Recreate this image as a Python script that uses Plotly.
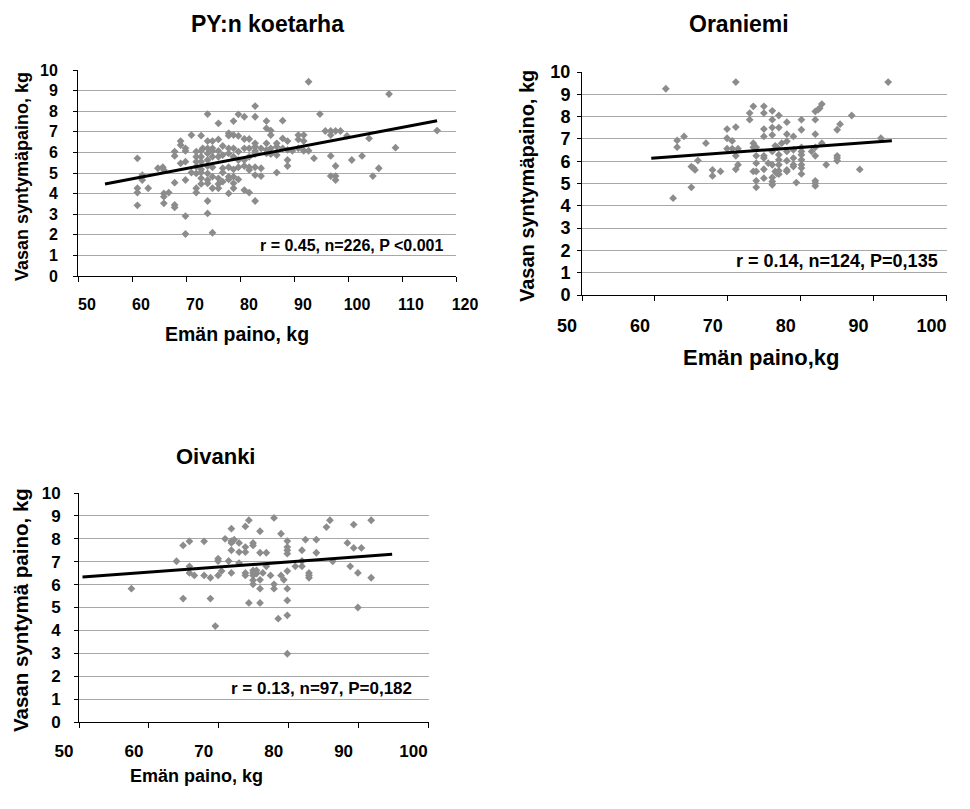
import plotly.graph_objects as go

W, H = 970, 809
OFF = 8  # page body margin in the browser; positions below are page pixels

# ---------------- data ----------------
titles = ["PY:n koetarha", "Oraniemi", "Oivanki"]
y_titles = ["Vasan syntymäpaino, kg", "Vasan syntymäpaino, kg", "Vasan syntymä paino, kg"]
x_titles = ["Emän paino, kg", "Emän paino,kg", "Emän paino, kg"]
stats = ["r = 0.45, n=226, P <0.001", "r = 0.14, n=124, P=0,135", "r = 0.13, n=97, P=0,182"]
x_ranges = [[50, 120], [50, 100], [50, 100]]
y_range = [0, 10]

py_points = [
    (74.0, 7.86), (76.0, 7.41), (78.8, 7.52), (79.7, 7.85), (80.8, 7.73), (82.8, 8.25), (82.8, 7.73),
    (71.0, 6.84), (72.8, 6.81), (77.9, 6.93), (77.9, 6.81), (78.8, 6.84), (79.7, 6.80), (80.8, 6.65),
    (81.7, 6.65), (82.8, 6.44), (82.8, 6.28), (69.0, 6.55), (69.0, 6.36), (74.0, 6.55), (74.9, 6.55),
    (76.0, 6.63), (76.8, 6.31), (74.9, 6.2), (74.0, 6.2), (73.1, 6.2), (71.9, 6.04), (72.8, 6.07),
    (69.9, 6.2), (69.9, 6.07), (67.9, 6.04), (67.9, 5.83), (69.0, 5.47), (69.9, 5.55), (71.9, 5.79),
    (72.8, 5.79), (74.0, 5.95), (74.9, 6.07), (76.0, 6.07), (77.9, 6.2), (78.8, 6.2), (79.7, 6.04),
    (80.8, 6.2), (81.7, 6.2), (82.8, 6.07), (83.9, 6.2), (71.9, 5.55), (72.8, 5.55), (74.0, 5.63),
    (74.9, 5.79), (76.0, 5.79), (76.8, 5.87), (77.9, 5.95), (78.8, 5.79), (79.7, 5.63), (80.8, 5.63),
    (81.7, 5.79), (82.8, 5.92), (71.9, 5.31), (72.8, 5.18), (74.0, 5.34), (74.9, 5.28), (76.8, 5.23),
    (77.9, 5.28), (78.8, 5.18), (79.7, 5.28), (80.8, 5.34), (81.7, 5.28), (82.8, 5.28), (83.9, 5.23),
    (64.8, 5.23), (65.7, 5.28), (65.9, 5.15), (61.9, 4.9), (61.9, 4.66), (63.0, 4.26), (67.9, 4.53),
    (69.9, 4.66), (71.0, 5.02), (71.9, 4.98), (72.8, 5.02), (74.0, 4.98), (72.8, 4.74), (74.0, 4.66),
    (74.9, 4.82), (76.0, 4.74), (76.8, 5.02), (77.9, 4.82), (78.8, 4.82), (77.9, 4.69), (79.7, 4.69),
    (81.7, 5.15), (82.8, 4.9), (83.9, 4.85), (72.8, 4.47), (74.0, 4.5), (74.9, 4.26), (76.0, 4.47),
    (76.0, 4.26), (76.8, 4.58), (77.9, 4.01), (78.8, 4.5), (78.8, 4.26), (80.8, 4.17), (81.7, 4.05),
    (71.9, 4.26), (71.9, 4.05), (61.0, 5.71), (61.0, 4.26), (61.0, 4.05), (61.0, 3.43), (65.9, 4.01),
    (65.9, 3.85), (66.8, 4.05), (65.9, 3.53), (67.9, 3.45), (67.9, 3.33), (69.9, 2.91), (74.0, 3.64),
    (74.0, 3.04), (82.8, 3.64), (69.9, 2.04), (74.9, 2.1),
    (92.7, 9.43), (107.6, 8.83), (84.9, 7.52), (87.9, 7.54), (94.8, 7.86), (84.9, 7.17), (85.7, 7.06),
    (85.7, 6.84), (84.9, 6.44), (86.8, 6.44), (86.8, 6.28), (87.9, 6.68), (88.8, 6.55), (90.8, 6.84),
    (90.8, 6.63), (91.8, 6.84), (91.8, 6.55), (95.8, 7.04), (96.8, 7.04), (96.8, 6.84), (97.7, 7.04),
    (98.6, 7.04), (99.8, 6.8), (103.9, 6.68), (108.8, 6.23), (116.5, 7.06), (85.7, 6.2), (87.9, 6.2),
    (88.8, 6.12), (89.7, 6.08), (90.8, 6.2), (91.8, 6.08), (92.7, 6.08), (84.9, 6.12), (84.9, 5.95),
    (85.7, 5.92), (86.8, 5.87), (88.8, 5.63), (88.8, 5.34), (93.7, 5.71), (96.8, 5.83), (97.7, 5.34),
    (100.7, 5.63), (102.6, 5.83), (86.8, 5.02), (96.8, 4.85), (97.7, 4.85), (97.7, 4.66), (104.6, 4.85),
    (105.7, 5.23),
]

or_points = [
    (61.5, 9.25), (71.1, 9.55), (92.0, 9.55), (62.5, 4.34), (63.05, 6.93), (63.05, 6.63), (64.0, 7.11),
    (65.0, 4.83), (65.0, 5.76), (65.3, 5.69), (65.5, 5.61), (65.9, 6.03), (67.0, 6.81), (67.9, 5.61),
    (67.9, 5.34), (69.0, 5.54), (69.9, 7.44), (69.9, 7.03), (69.9, 6.56), (70.6, 6.91), (70.6, 6.56),
    (71.1, 7.53), (71.1, 6.24), (71.4, 6.56), (71.4, 5.84), (71.1, 5.64), (73.0, 8.16), (73.0, 7.86),
    (73.5, 8.46), (73.5, 6.81), (73.5, 6.62), (73.9, 6.62), (73.9, 6.24), (73.9, 5.91), (73.5, 5.54),
    (73.9, 5.54), (73.9, 5.12), (73.9, 4.83), (74.95, 8.46), (74.95, 8.16), (74.95, 7.44), (74.95, 7.11),
    (74.95, 6.24), (74.95, 6.14), (74.95, 5.64), (74.95, 5.24), (75.55, 5.91), (76.1, 8.26), (76.1, 7.86),
    (76.1, 7.51), (76.1, 7.18), (76.1, 6.44), (76.1, 5.84), (76.1, 5.27), (76.1, 5.09), (76.1, 4.94),
    (76.5, 6.69), (76.8, 6.62), (77.0, 8.05), (77.0, 7.51), (77.0, 6.29), (77.0, 6.06), (77.0, 5.84),
    (77.0, 5.57), (77.0, 5.42), (76.5, 5.54), (76.7, 5.46), (77.4, 6.81), (78.1, 7.75), (78.1, 7.21),
    (78.1, 6.89), (78.1, 6.44), (78.1, 6.02), (78.1, 5.61), (78.1, 5.54), (79.0, 7.11), (79.0, 6.51),
    (79.0, 6.14), (79.0, 5.84), (79.0, 5.76), (79.4, 5.04), (80.1, 7.86), (80.1, 7.41), (80.1, 6.62),
    (80.1, 6.44), (80.1, 6.29), (80.1, 6.06), (80.1, 5.84), (80.1, 5.69), (80.1, 5.43), (81.5, 6.44),
    (82.0, 8.23), (82.4, 8.31), (82.6, 8.38), (82.9, 8.56), (82.0, 7.86), (82.0, 7.21), (82.0, 6.62),
    (82.0, 6.24), (82.0, 5.12), (82.0, 5.01), (82.0, 4.89), (82.9, 6.81), (83.5, 5.84), (85.0, 7.41),
    (85.4, 7.66), (85.0, 6.24), (85.0, 6.14), (85.0, 6.02), (87.0, 8.05), (88.1, 5.63), (91.0, 7.03),
]

oi_points = [
    (57.5, 5.82), (63.95, 7.02), (64.9, 7.71), (64.9, 5.39), (65.8, 7.89), (65.8, 6.8), (65.8, 6.51),
    (66.5, 6.4), (67.9, 7.89), (67.9, 6.4), (68.8, 6.3), (68.8, 5.39), (69.5, 4.19), (69.9, 7.13),
    (69.9, 7.03), (69.9, 6.4), (70.4, 6.59), (70.9, 8.0), (71.4, 7.03), (71.8, 8.44), (71.8, 7.9),
    (71.8, 7.82), (71.8, 7.5), (71.8, 6.51), (72.2, 7.96), (72.9, 7.82), (72.9, 7.42), (72.9, 6.94),
    (73.8, 8.54), (73.8, 7.64), (73.8, 7.42), (73.8, 6.51), (73.8, 6.40), (74.3, 8.81), (74.3, 5.2),
    (74.9, 7.82), (74.9, 7.71), (74.9, 6.62), (74.9, 6.51), (74.9, 6.40), (74.9, 6.19), (74.9, 6.01),
    (75.4, 6.62), (75.4, 6.48), (75.9, 8.33), (75.9, 7.39), (75.9, 6.21), (75.9, 5.82), (75.9, 5.2),
    (76.3, 6.51), (76.8, 7.39), (76.8, 6.8), (77.4, 6.4), (77.9, 8.91), (77.9, 6.01), (77.9, 5.82),
    (78.5, 4.51), (78.9, 8.22), (78.9, 6.4), (79.3, 6.21), (79.8, 7.9), (79.8, 7.64), (79.8, 7.5),
    (79.8, 7.35), (79.8, 6.59), (79.8, 5.82), (79.8, 5.31), (79.8, 4.66), (79.8, 2.98), (80.95, 6.8),
    (81.9, 7.5), (81.9, 7.03), (81.9, 6.8), (82.4, 7.96), (82.9, 6.51), (82.9, 6.4), (82.9, 6.3),
    (83.95, 7.96), (83.95, 7.39), (85.4, 8.51), (85.9, 8.81), (86.3, 7.02), (88.4, 7.82), (88.8, 6.8),
    (89.3, 8.62), (89.3, 7.6), (90.4, 7.6), (89.9, 6.51), (89.9, 5.0), (91.8, 8.81), (91.8, 6.3),
]

# trend line end points
py_trend_x, py_trend_y = [55.0, 116.5], [4.47, 7.54]
or_trend_x, or_trend_y = [59.5, 92.5], [6.13, 6.92]
oi_trend_x, oi_trend_y = [50.5, 94.8], [6.33, 7.32]

# ---------------- layout geometry (page pixels) ----------------
FONT = "Liberation Sans, Arial, Helvetica, sans-serif"
boxes = [(78, 456, 70, 276), (582, 946.5, 72, 295), (79, 428.5, 493, 722)]
tick_font_sizes = [16, 18, 17]
xshift = [9, -15, -15]
ystandoff = [12, 3, 10]


def fx(px):
    return (px - OFF) / W


def fy(py):
    return 1 - (py - OFF) / H


datasets = [
    (py_points, py_trend_x, py_trend_y),
    (or_points, or_trend_x, or_trend_y),
    (oi_points, oi_trend_x, oi_trend_y),
]

fig = go.Figure()
marker_color = "#8c8c8c"

for i, (pts, tx, ty) in enumerate(datasets):
    xa = "x" if i == 0 else f"x{i+1}"
    ya = "y" if i == 0 else f"y{i+1}"
    fig.add_trace(go.Scatter(
        x=[p[0] for p in pts], y=[p[1] for p in pts], mode="markers",
        marker=dict(symbol="diamond", size=6, color=marker_color, line=dict(width=0)),
        xaxis=xa, yaxis=ya, hoverinfo="skip", showlegend=False))
    fig.add_trace(go.Scatter(
        x=tx, y=ty, mode="lines", line=dict(color="black", width=3),
        xaxis=xa, yaxis=ya, hoverinfo="skip", showlegend=False))

layout = dict(
    template="none",
    width=W, height=H, autosize=False,
    margin=dict(l=0, r=0, t=0, b=0, pad=0),
    paper_bgcolor="white", plot_bgcolor="white",
    showlegend=False,
    font=dict(family=FONT, color="black"),
)

for i, (l, r, t, b) in enumerate(boxes):
    xk = "xaxis" if i == 0 else f"xaxis{i+1}"
    yk = "yaxis" if i == 0 else f"yaxis{i+1}"
    ya = "y" if i == 0 else f"y{i+1}"
    xa = "x" if i == 0 else f"x{i+1}"
    fs = tick_font_sizes[i]
    layout[xk] = dict(
        domain=[fx(l), fx(r)], anchor=ya, range=x_ranges[i], dtick=10, tick0=50,
        automargin=False,
        showgrid=False, zeroline=False, showline=True, linecolor="black", linewidth=1,
        ticks="outside", ticklen=5, tickcolor="black", tickwidth=1,
        tickfont=dict(family=FONT, size=fs, color="black", weight="bold"),
        ticklabelshift=xshift[i], ticklabelstandoff=9,
    )
    layout[yk] = dict(
        domain=[fy(b), fy(t)], anchor=xa, range=y_range, dtick=1, tick0=0,
        automargin=False,
        showgrid=True, gridcolor="#a8a8a8", gridwidth=1, zeroline=False,
        showline=True, linecolor="black", linewidth=1,
        ticks="outside", ticklen=4, tickcolor="black", tickwidth=1,
        tickfont=dict(family=FONT, size=fs, color="black", weight="bold"),
        ticklabelstandoff=ystandoff[i],
    )

fig.update_layout(**layout)


def ann(text, px, py, size, angle=0, xanchor="center"):
    fig.add_annotation(
        text=f"<b>{text}</b>", x=fx(px), y=fy(py), xref="paper", yref="paper",
        showarrow=False, textangle=angle, xanchor=xanchor, yanchor="middle",
        borderpad=0, font=dict(family=FONT, size=size, color="black"))


# chart titles
ann(titles[0], 267, 24, 23)
ann(titles[1], 739, 24, 23)
ann(titles[2], 215, 456, 22)
# y axis titles
ann(y_titles[0], 22, 177, 18, angle=-90)
ann(y_titles[1], 527, 186, 20, angle=-90)
ann(y_titles[2], 20, 610, 20.5, angle=-90)
# x axis titles
ann(x_titles[0], 237, 334, 19.5)
ann(x_titles[1], 761, 358, 22)
ann(x_titles[2], 196, 776, 18)
# statistics
ann(stats[0], 445, 245, 16, xanchor="right")
ann(stats[1], 939, 261, 18, xanchor="right")
ann(stats[2], 413, 688, 17, xanchor="right")

fig.write_html("out.html")
